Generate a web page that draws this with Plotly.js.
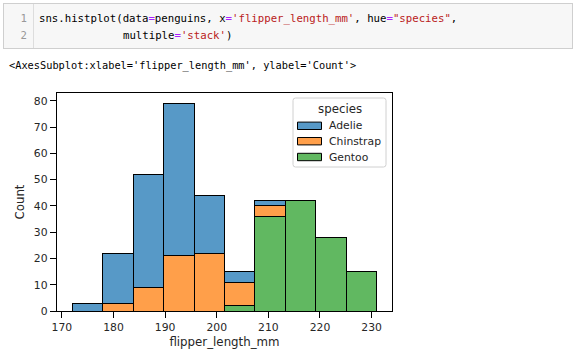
<!DOCTYPE html>
<html>
<head>
<meta charset="utf-8">
<script src="https://cdn.plot.ly/plotly-3.0.1.min.js"></script>
<style>
  html, body { margin:0; padding:0; background:#fff; }
  #wrap { position:relative; width:576px; height:355px; overflow:hidden; }
  #plot { position:absolute; left:0; top:0; width:576px; height:355px; }
  #cell { position:absolute; left:3px; top:3px; width:568px; height:44px; background:#f7f7f7; border:1px solid #cfcfcf; z-index:5; }
  #gutter { position:absolute; left:0; top:0; width:29px; height:44px; border-right:1px solid #dddddd; }
  .mono { font-family:"DejaVu Sans Mono", "Liberation Mono", monospace; font-size:10.7px; white-space:pre; line-height:17px; }
  .ln { position:absolute; right:6px; color:#999999; }
  .codeline { position:absolute; left:35px; color:#000; }
  .op { color:#aa22ff; }
  .st { color:#ba2121; }
  #out { position:absolute; left:9px; top:57px; color:#000; z-index:5; font-size:10.3px; }
</style>
</head>
<body>
<div id="wrap">
  <div id="plot"></div>
  <div id="cell">
    <div id="gutter">
      <div class="mono ln" style="top:6px;"><span>1</span></div>
      <div class="mono ln" style="top:23px;"><span>2</span></div>
    </div>
    <div class="mono codeline" style="top:6px;"><span>sns.histplot(data</span><span class="op">=</span><span>penguins, x</span><span class="op">=</span><span class="st">'flipper_length_mm'</span><span>, hue</span><span class="op">=</span><span class="st">"species"</span><span>,</span></div>
    <div class="mono codeline" style="top:23px; left:119px;"><span>multiple</span><span class="op">=</span><span class="st">'stack'</span><span>)</span></div>
  </div>
  <div id="out" class="mono"><span>&lt;AxesSubplot:xlabel='flipper_length_mm', ylabel='Count'&gt;</span></div>
</div>
<script>
// Bin edges (10 bins from 172 to 231)
const binEdges = [172, 177.9, 183.8, 189.7, 195.6, 201.5, 207.4, 213.3, 219.2, 225.1, 231];
const adelie    = [3, 19, 43, 58, 22, 4, 2, 0, 0, 0];
const chinstrap = [0, 3, 9, 21, 22, 9, 4, 0, 0, 0];
const gentoo    = [0, 0, 0, 0, 0, 2, 36, 42, 28, 15];
const speciesNames = ['Adelie', 'Chinstrap', 'Gentoo'];
const colors = ['rgb(87,153,199)', 'rgb(255,159,74)', 'rgb(97,184,97)'];
const xTicks = [170, 180, 190, 200, 210, 220, 230];
const yTicks = [0, 10, 20, 30, 40, 50, 60, 70, 80];

const centers = binEdges.slice(0, -1).map((e, i) => (e + binEdges[i + 1]) / 2);
const widths = binEdges.slice(0, -1).map((e, i) => binEdges[i + 1] - e);

function mk(name, vals, color) {
  return {
    type: 'bar', name: name, x: centers, y: vals, width: widths,
    marker: { color: color, line: { color: '#000', width: 1 } },
    showlegend: false, hoverinfo: 'x+y+name'
  };
}
// stacking order: Gentoo bottom, then Chinstrap, then Adelie
const traces = [
  mk(speciesNames[2], gentoo, colors[2]),
  mk(speciesNames[1], chinstrap, colors[1]),
  mk(speciesNames[0], adelie, colors[0])
];

// Plot area in pixels
const L = 57, R = 392, T = 93, B = 311;
const px = v => (v - L) / (R - L);
const py = v => (B - v) / (B - T);

const txt = '#262626';
const tickFont = { family: 'DejaVu Sans, sans-serif', size: 10.8, color: txt };
const labelFont = { family: 'DejaVu Sans, sans-serif', size: 11.8, color: txt };

// Custom matplotlib-style legend
const shapes = [];
const annotations = [];
{
  const x0 = 293, x1 = 386, y0 = 98, y1 = 167, r = 2.5;
  const path = `M ${px(x0 + r)},${py(y0)} L ${px(x1 - r)},${py(y0)} Q ${px(x1)},${py(y0)} ${px(x1)},${py(y0 + r)} ` +
    `L ${px(x1)},${py(y1 - r)} Q ${px(x1)},${py(y1)} ${px(x1 - r)},${py(y1)} L ${px(x0 + r)},${py(y1)} ` +
    `Q ${px(x0)},${py(y1)} ${px(x0)},${py(y1 - r)} L ${px(x0)},${py(y0 + r)} Q ${px(x0)},${py(y0)} ${px(x0 + r)},${py(y0)} Z`;
  shapes.push({ type: 'path', xref: 'paper', yref: 'paper', path: path,
    fillcolor: 'rgba(255,255,255,0.8)', line: { color: '#d0d0d0', width: 1 }, layer: 'above' });
  annotations.push({ xref: 'paper', yref: 'paper', x: px(340), y: py(109), text: 'species',
    showarrow: false, xanchor: 'center', yanchor: 'middle', font: labelFont });
  const rowY = [125.8, 141.2, 157];
  speciesNames.forEach((name, i) => {
    const cy = rowY[i];
    shapes.push({ type: 'rect', xref: 'paper', yref: 'paper',
      x0: px(297.5), x1: px(321.5), y0: py(cy - 3.7), y1: py(cy + 3.7),
      fillcolor: colors[i], line: { color: '#000', width: 1 }, layer: 'above' });
    annotations.push({ xref: 'paper', yref: 'paper', x: px(326.5), y: py(cy), text: name,
      showarrow: false, xanchor: 'left', yanchor: 'middle', font: tickFont });
  });
}

const layout = {
  width: 576, height: 355,
  margin: { l: L, r: 576 - R, t: T, b: 355 - B, pad: 0 },
  paper_bgcolor: '#fff', plot_bgcolor: '#fff',
  barmode: 'stack', bargap: 0,
  font: tickFont,
  showlegend: false,
  shapes: shapes,
  annotations: annotations,
  xaxis: {
    range: [169.05, 233.95], tickvals: xTicks, ticktext: xTicks.map(String),
    showgrid: false, zeroline: false,
    showline: true, linecolor: '#000', linewidth: 1.25, mirror: true,
    ticks: 'outside', ticklen: 6, tickwidth: 1, tickcolor: '#000',
    title: { text: 'flipper_length_mm', font: labelFont, standoff: 4 },
    tickfont: tickFont
  },
  yaxis: {
    range: [0, 82.95], tickvals: yTicks, ticktext: yTicks.map(String),
    showgrid: false, zeroline: false,
    showline: true, linecolor: '#000', linewidth: 1.25, mirror: true,
    ticks: 'outside', ticklen: 6, tickwidth: 1, tickcolor: '#000',
    title: { text: 'Count', font: labelFont, standoff: 6 },
    tickfont: tickFont
  }
};
Plotly.newPlot('plot', traces, layout, { displayModeBar: false, staticPlot: true });
</script>
</body>
</html>
